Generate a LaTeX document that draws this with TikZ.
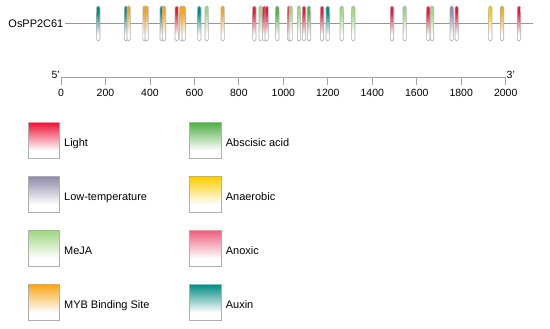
\documentclass[tikz,border=0pt]{standalone}
\usepackage{fontspec}
\setmainfont{Liberation Sans}
\definecolor{lightc}{RGB}{240,20,55}
\definecolor{lowtemp}{RGB}{145,140,170}
\definecolor{meja}{RGB}{160,215,130}
\definecolor{myb}{RGB}{250,165,20}
\definecolor{aba}{RGB}{80,175,70}
\definecolor{anaer}{RGB}{255,205,0}
\definecolor{anoxic}{RGB}{240,95,125}
\definecolor{auxin}{RGB}{0,140,130}
\definecolor{gline}{RGB}{150,150,150}
\definecolor{outl}{RGB}{175,175,175}
\definecolor{axisc}{RGB}{165,165,165}
\begin{document}
\begin{tikzpicture}[x=1bp,y=-1bp,font=\fontsize{11}{13}\selectfont,
  legbox/.style={draw=outl,line width=0.8bp},
  elout/.style={draw=outl,line width=0.6bp,rounded corners=1.6bp},
  ticklab/.style={font=\fontsize{10.5}{12}\selectfont,inner sep=0pt}]
\useasboundingbox (0,0) rectangle (550,328);
% gene line
\draw[line width=1bp,draw=gline] (65,23.7) coordinate (gs) -- (533,23.7) coordinate (ge);
\node[anchor=east,inner sep=0pt] (gene) at (63.5,23.7) {OsPP2C61};
% elements
\foreach \x/\c in {98.3/auxin,126/auxin,128.7/myb,144.5/myb,146.7/myb,161.7/auxin,164/myb,
  176.7/lightc,181.3/myb,183.7/myb,199.3/auxin,206.7/meja,222.7/myb,254.3/lightc,260.7/meja,
  264.3/lightc,266.7/lightc,277.3/aba,289/lightc,290.7/meja,299/meja,304/lightc,309/aba,
  322/lightc,327.7/auxin,341.7/meja,353.3/meja,392/lightc,404.7/meja,428.3/lightc,432/meja,
  451.7/lowtemp,456.7/lightc,490.3/anaer,502/myb,519/lightc}{
  \begin{scope}
    \clip[rounded corners=1.6bp] (\x-1.7,6) rectangle (\x+1.7,41);
    \fill[white] (\x-2,6) rectangle (\x+2,41);
    \fill[\c] (\x-2,6) rectangle (\x+2,12.2);
    \shade[top color=\c,bottom color=white] (\x-2,12) rectangle (\x+2,35);
  \end{scope}
  \draw[elout] (\x-1.7,6) rectangle (\x+1.7,41);
}
% axis
\draw[line width=1.2bp,draw=axisc] (61,77.7) coordinate (a0) -- (505.7,77.7) coordinate (a1);
\foreach \i in {0,...,10}{
  \pgfmathtruncatemacro{\v}{\i*200}
  \draw[line width=0.8bp,draw=axisc] (61+\i*44.47,77.7) -- (61+\i*44.47,85);
  \node[ticklab] (t\i) at (61+\i*44.47,92.5) {\v};
}
\node[ticklab,anchor=east] (p5) at (60,74.5) {5'};
\node[ticklab,anchor=west] (p3) at (506.5,74.5) {3'};
% legend
\foreach \px/\py/\c/\t/\n in {28/122.7/lightc/Light/l1,28/176.7/lowtemp/Low-temperature/l2,
  28/230.7/meja/MeJA/l3,28/284.5/myb/MYB Binding Site/l4,
  189.7/122.7/aba/Abscisic acid/l5,189.7/176.7/anaer/Anaerobic/l6,
  189.7/230.7/anoxic/Anoxic/l7,189.7/284.5/auxin/Auxin/l8}{
  \shade[top color=\c,bottom color=white] (\px,\py) rectangle (\px+31.5,\py+28);
  \draw[legbox] (\px,\py) rectangle (\px+31.5,\py+36);
  \node[anchor=base west,inner sep=0pt] (\n) at (\px+36,\py+23.8) {\t};
}
\end{tikzpicture}
\end{document}
